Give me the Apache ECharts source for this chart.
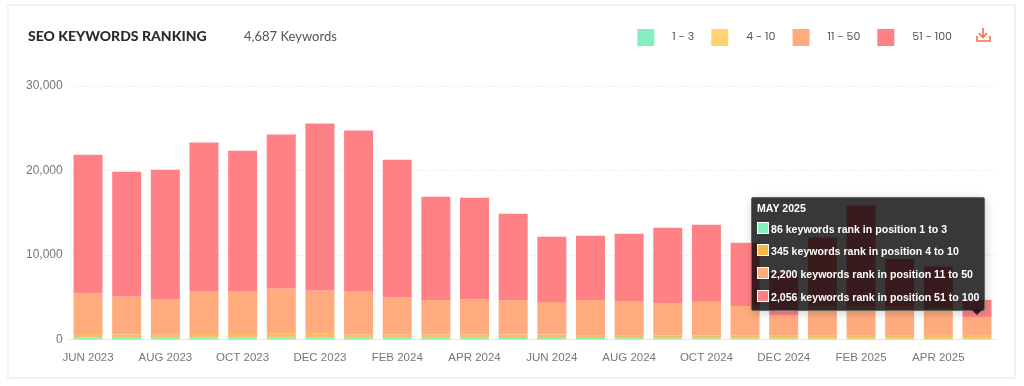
<!DOCTYPE html>
<html>
<head>
<meta charset="utf-8">
<title>SEO Keywords Ranking</title>
<script src="https://cdn.jsdelivr.net/npm/echarts@6/dist/echarts.min.js"></script>
<style>
html,body{margin:0;padding:0;background:#fff;}
#chart{width:1024px;height:386px;}
</style>
</head>
<body>
<div id="chart"></div>
<script>
var months = ['JUN 2023','JUL 2023','AUG 2023','SEP 2023','OCT 2023','NOV 2023','DEC 2023','JAN 2024','FEB 2024','MAR 2024','APR 2024','MAY 2024','JUN 2024','JUL 2024','AUG 2024','SEP 2024','OCT 2024','NOV 2024','DEC 2024','JAN 2025','FEB 2025','MAR 2025','APR 2025','MAY 2025'];
var names = ['1 - 3','4 - 10','11 - 50','51 - 100'];
var top3 = [230,200,200,220,220,220,220,200,200,200,200,180,180,170,160,150,150,130,120,110,100,100,90,86];
var top10 = [420,380,370,440,440,450,470,420,400,420,420,400,400,340,350,340,340,330,340,340,340,340,340,345];
var top50 = [4830,4500,4230,5090,5090,5360,5100,5130,4400,4030,4150,4070,3870,4170,4060,3840,3990,3510,2440,3450,3510,3360,3270,2200];
var top100 = [16390,14780,15300,17550,16600,18220,19760,18970,16280,12250,12010,10230,7700,7590,7940,8890,9100,7470,4980,8170,11910,5740,4930,2056];
var colors = ['#8ceec3','#f6bf5f','#ffab7d','#ff8186'];
var legendColors = ['#86efc0','#ffd470','#ffab7d','#ff8186'];
var tipColors = ['#86efc0','#f5b942','#ffab7d','#ff8186'];
var tipRanges = ['1 to 3','4 to 10','11 to 50','51 to 100'];

var chart = echarts.init(document.getElementById('chart'));

function bar(i, data){
	return {
		name: names[i],
		type: 'bar',
		stack: 'total',
		barWidth: 29,
		data: data,
		itemStyle: {color: colors[i]},
		emphasis: {disabled: true}
	};
}

function tipHtml(params){
	var s = '<div style="font-weight:bold;line-height:18px;margin-bottom:1.5px;">'+params[0].axisValue+'</div>';
	for(var i=0;i<params.length;i++){
		s += '<div style="height:22.8px;line-height:21px;white-space:nowrap;">'
			+'<span style="display:inline-block;width:10px;height:10px;vertical-align:-1px;margin-right:2px;border:1px solid #fff;background:'+tipColors[i]+';"></span>'
			+params[i].value.toLocaleString('en-US')+' keywords rank in position '+tipRanges[i]+'</div>';
	}
	//小三角
	s += '<div style="position:absolute;right:2px;bottom:-5px;width:0;height:0;border-left:5px solid transparent;border-right:5px solid transparent;border-top:5px solid rgba(0,0,0,0.78);"></div>';
	return s;
}

var iconStyle = {stroke:'#f4704a',lineWidth:1.6,fill:'none'};
var option = {
	animation: false,
	textStyle: {fontFamily: 'Arial, "Liberation Sans", sans-serif'},
	graphic: [
		{type:'rect',shape:{x:8,y:5,width:1007,height:373},style:{fill:'#fff',stroke:'#f2f2f2',lineWidth:2},silent:true,z:-10},
		{type:'text',x:28,y:29,style:{text:'SEO KEYWORDS RANKING',font:'900 14px Lato, sans-serif',fill:'#2b2b2b'}},
		{type:'text',x:244,y:30,style:{text:'4,687 Keywords',font:'13px Lato, sans-serif',fill:'#555'}},
		{type:'polyline',shape:{points:[[983,28],[983,37]]},style:iconStyle},
		{type:'polyline',shape:{points:[[979,33],[983,37.5],[987,33]]},style:iconStyle},
		{type:'polyline',shape:{points:[[977,36],[977,41],[990,41],[990,36]]},style:iconStyle}
	],
	legend: {
		data: names.map(function(n,i){return {name:n,itemStyle:{color:legendColors[i]}};}),
		top: 24,
		right: 67,
		icon: 'rect',
		itemWidth: 17,
		itemHeight: 17,
		itemGap: 17,
		selectedMode: false,
		textStyle: {color:'#555',fontSize:11,fontFamily:'Poppins, Inter, sans-serif',padding:[0,0,0,13]}
	},
	tooltip: {
		trigger: 'axis',
		axisPointer: {type:'none'},
		alwaysShowContent: true,
		position: [751,197],
		backgroundColor: 'rgba(0,0,0,0.78)',
		borderColor: '#666',
		borderWidth: 1,
		borderRadius: 2,
		padding: [1,5,0,5],
		textStyle: {color:'#fff',fontSize:10.6,fontWeight:'bold',fontFamily:'Arial, "Liberation Sans", sans-serif'},
		formatter: tipHtml
	},
	grid: {left:68.7,right:27.7,top:86,bottom:46.5},
	xAxis: {
		type: 'category',
		data: months,
		axisLine: {lineStyle:{color:'#e6e6e6'}},
		axisTick: {alignWithLabel:true,interval:1,length:7,lineStyle:{color:'#e6e6e6'}},
		axisLabel: {interval:1,color:'#777',fontSize:11.5,margin:12}
	},
	yAxis: {
		type: 'value',
		min: 0,
		max: 30000,
		interval: 10000,
		axisLine: {show:false},
		axisTick: {show:false},
		axisLabel: {color:'#777',fontSize:12,margin:6,formatter:function(v){return v.toLocaleString('en-US');}},
		splitLine: {lineStyle:{color:'#e2e2e2',type:[1,2]}}
	},
	series: [bar(0,top3),bar(1,top10),bar(2,top50),bar(3,top100)]
};
chart.setOption(option);
chart.dispatchAction({type:'showTip',seriesIndex:0,dataIndex:23});
</script>
</body>
</html>
